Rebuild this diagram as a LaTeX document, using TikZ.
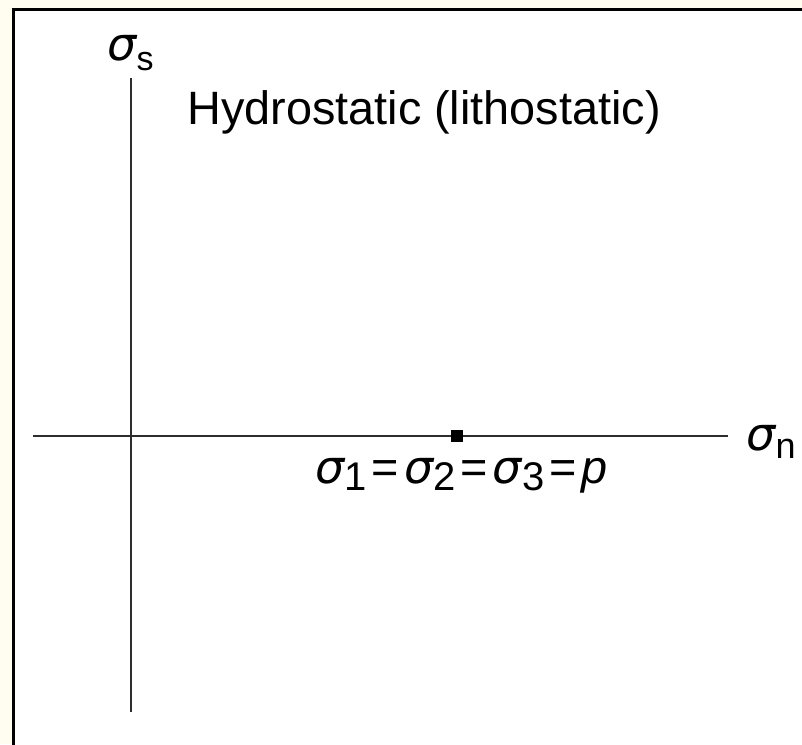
\documentclass[tikz,border=0pt]{standalone}
\usepackage{fontspec}
\setmainfont{Liberation Sans}
\newfontfamily\grkfont{DejaVu Sans}
\usetikzlibrary{positioning}
\definecolor{paper}{RGB}{255,253,240}
\definecolor{axisgray}{RGB}{45,45,45}
\newcommand{\sg}{{\grkfont\itshape\fontsize{23}{26}\selectfont σ}}
\newcommand{\lo}[3]{\raisebox{-#1}{\fontsize{#2}{#2}\selectfont #3}}
\newcommand{\eq}{\kern2.5pt=\kern2.5pt}

\begin{document}
\begin{tikzpicture}[
      x=0.5pt, y=-0.5pt,
      font=\fontsize{23.4}{28}\selectfont,
      axis/.style={draw=axisgray, line width=1.35pt},
      lbl/.style={inner sep=0pt, anchor=base west}
    ]
    % ---- page and frame ----
    \useasboundingbox (0,0) rectangle (802,744);
    \fill[paper] (0,0) rectangle (802,744);
    \begin{scope}
      \clip (0,0) rectangle (802,744);
      \draw[fill=white, line width=1.5pt] (13,9) rectangle (830,770);
    \end{scope}

    % ---- axes ----
    \coordinate (ytop) at (131,78);
    \coordinate (ybot) at (131,712);
    \coordinate (xlft) at (33,436);
    \coordinate (xrgt) at (728,436);
    \draw[axis] (ybot) -- (ytop);
    \draw[axis] (xlft) -- (xrgt);

    \node[lbl] (sigs) at (107,60) {\sg\lo{5.5pt}{17}{s}};
    \node[lbl] (sign) at (746,450) {\sg\lo{4pt}{18}{n}};

    % ---- hydrostatic point ----
    \node[fill=black, inner sep=0pt, minimum size=6pt] (pt) at (457,436) {};
    \node[lbl] (title) at (187,124) {Hydrostatic (lithostatic)};
    \node[lbl] (eqn) at (315,483)
      {\sg\lo{3.5pt}{20}{1}\eq\sg\lo{3.5pt}{20}{2}\eq\sg\lo{3.5pt}{20}{3}\eq\textit{p}};
  \end{tikzpicture}
\end{document}
